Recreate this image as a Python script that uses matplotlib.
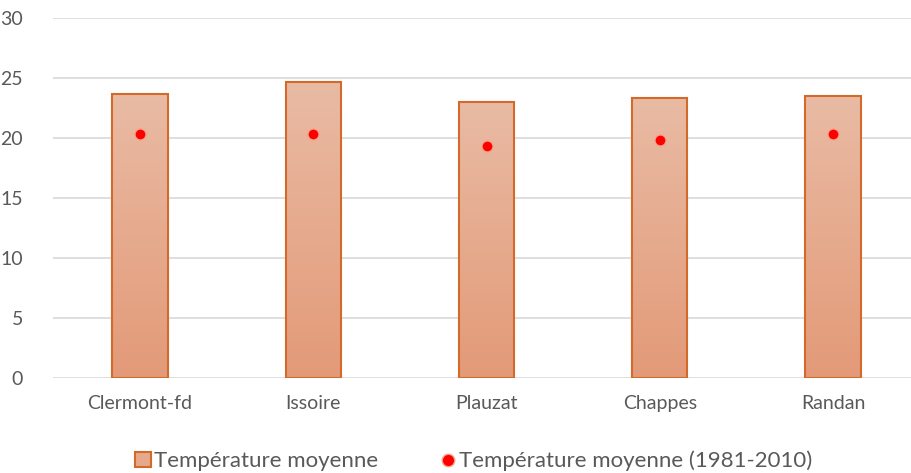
import numpy as np
import matplotlib.pyplot as plt
from matplotlib.colors import LinearSegmentedColormap
from matplotlib.lines import Line2D
from matplotlib.patches import Patch

villes = ['Clermont-fd', 'Issoire', 'Plauzat', 'Chappes', 'Randan']
temp_moy = [23.7, 24.7, 23.0, 23.3, 23.5]
temp_normale = [20.3, 20.3, 19.3, 19.8, 20.3]

plt.rcParams['font.family'] = ['Lato', 'DejaVu Sans']

fig = plt.figure(figsize=(9.12, 4.73), dpi=100)
ax = fig.add_axes([53.4 / 912, 95 / 473, 866.2 / 912, 360 / 473])

x = np.arange(len(villes))
bars = ax.bar(x, temp_moy, width=0.32, facecolor='none', edgecolor='#D46A2A', linewidth=1.5, zorder=3)

cmap = LinearSegmentedColormap.from_list('grad', ['#E39A78', '#E9BBA4'])
grad = np.linspace(0, 1, 256).reshape(-1, 1)
for b in bars:
    x0, w, h = b.get_x(), b.get_width(), b.get_height()
    im = ax.imshow(grad, cmap=cmap, origin='lower', aspect='auto',
                   extent=[x0, x0 + w, 0, h], zorder=2)
    im.set_clip_path(b)

ax.plot(x, temp_normale, 'o', color='#FF0000', markersize=8,
        markeredgecolor='#F4A58A', markeredgewidth=1, linestyle='none', zorder=4)

ax.set_xlim(-0.5, len(villes) - 0.5)
ax.set_ylim(0, 30)
ax.set_yticks(range(0, 31, 5))
ax.set_xticks(x)
ax.set_xticklabels(villes)
ax.tick_params(length=0, labelsize=14, labelcolor='#595959')
ax.tick_params(axis='x', pad=12)
ax.tick_params(axis='y', pad=22)
ax.grid(axis='y', color='#D9D9D9', linewidth=1.2, zorder=0)
for s in ax.spines.values():
    s.set_visible(False)

handles = [Patch(facecolor='#E6A98C', edgecolor='#D46A2A', linewidth=1.5),
           Line2D([], [], marker='o', color='#FF0000', markeredgecolor='#F4A58A',
                  markersize=9, linestyle='none')]
fig.legend(handles, ['Température moyenne', 'Température moyenne (1981-2010)'],
           loc='center', bbox_to_anchor=(474 / 912, 1 - 461 / 473), ncol=2, frameon=False,
           fontsize=16, labelcolor='#595959', handlelength=0.7, handleheight=0.7,
           handletextpad=0.15, columnspacing=2.8)

fig.savefig('out.png', dpi=100)
